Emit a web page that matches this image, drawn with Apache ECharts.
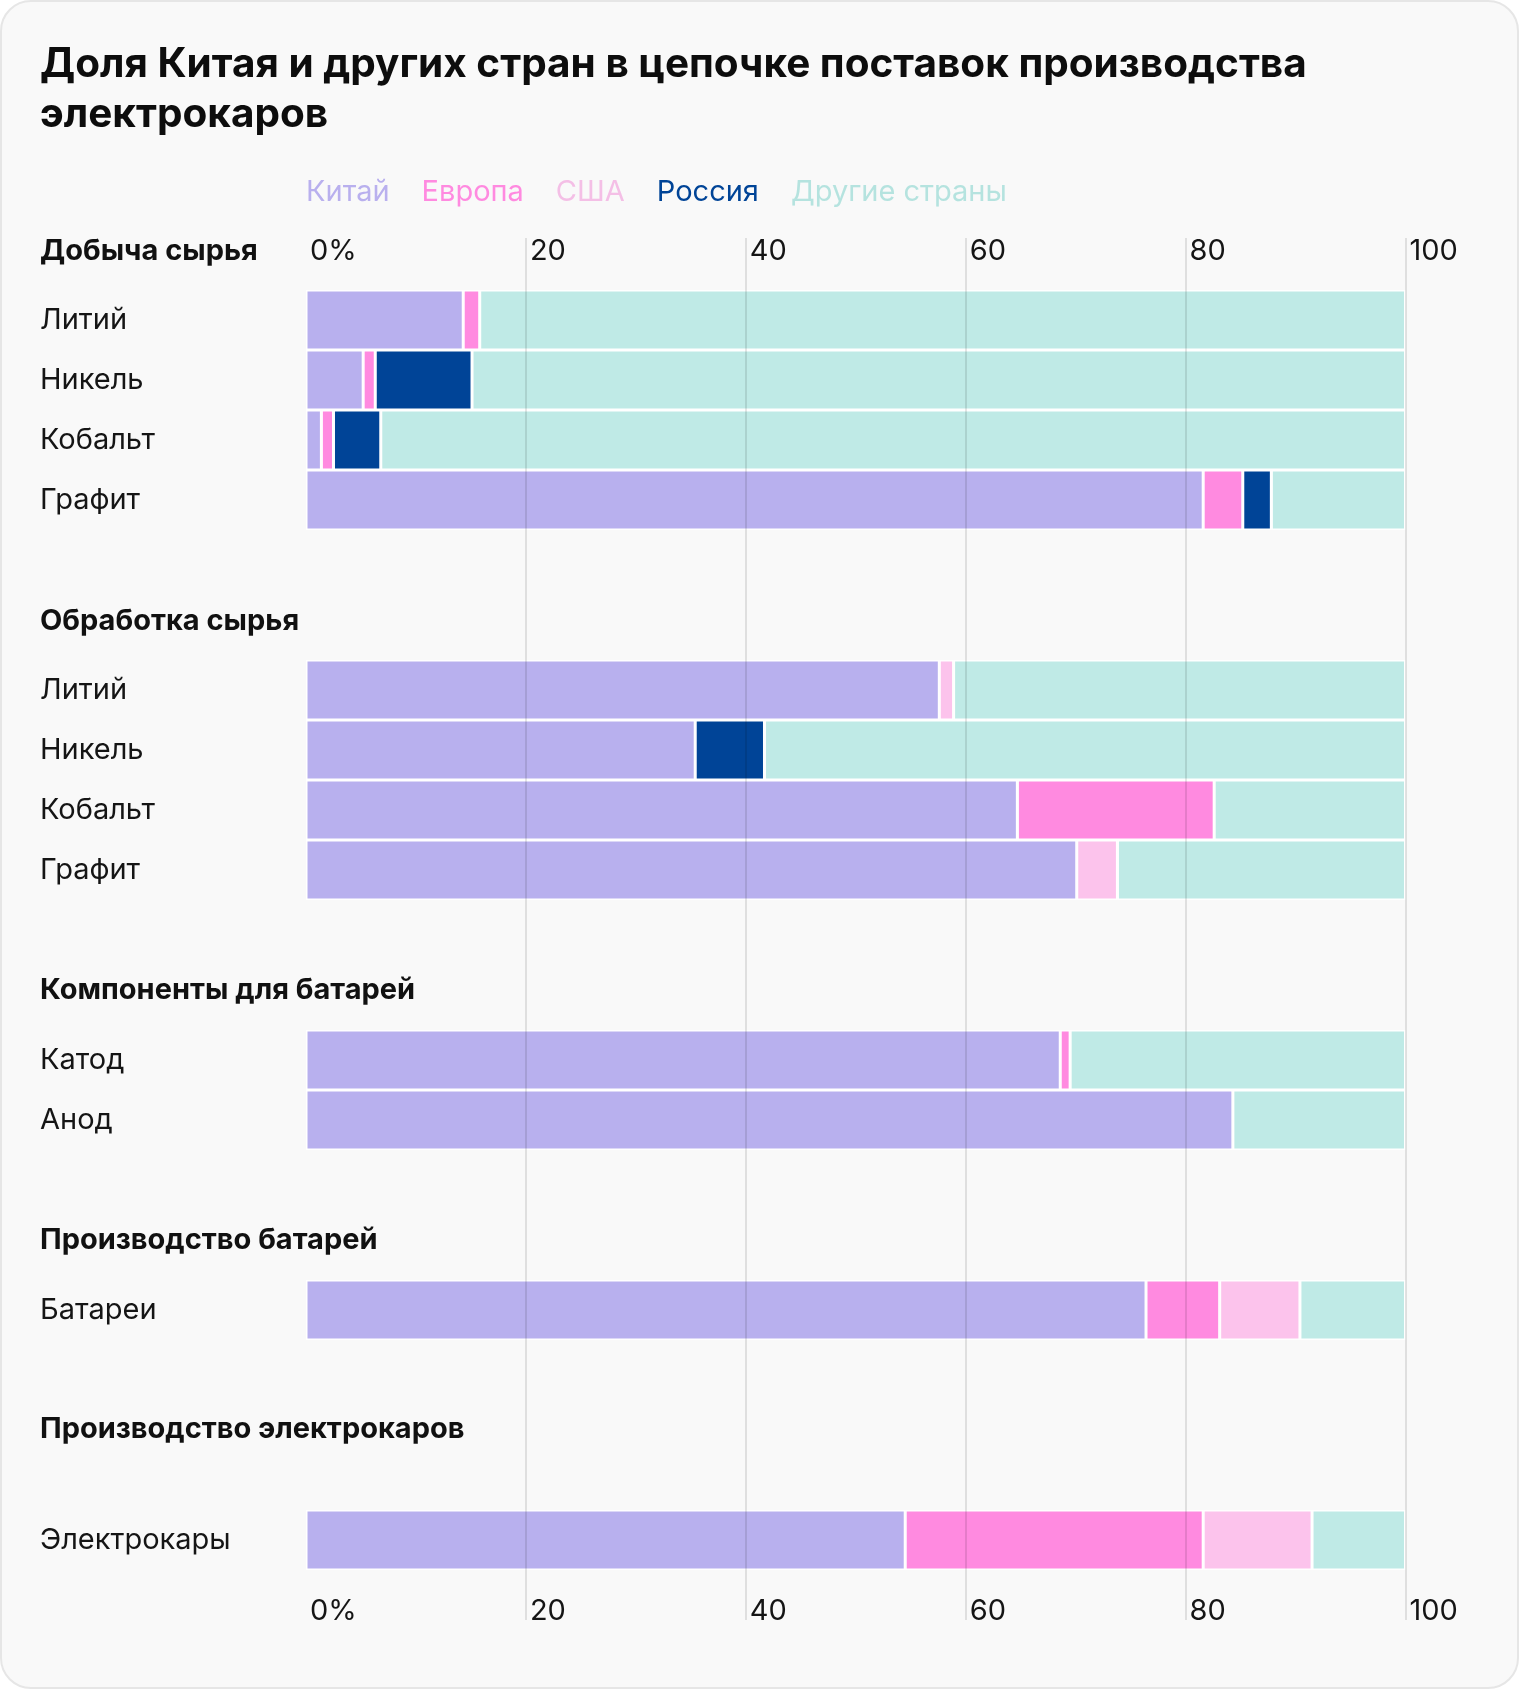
<!DOCTYPE html>
<html>
<head>
<meta charset="utf-8">
<script src="https://cdn.jsdelivr.net/npm/echarts@6/dist/echarts.min.js"></script>
<style>
html,body{margin:0;padding:0;background:#ffffff;}
#chart{width:1520px;height:1690px;}
</style>
</head>
<body>
<div id="chart"></div>
<script>
// ---- Data ----
const countries = ['Китай', 'Европа', 'США', 'Россия', 'Другие страны'];
const sectionTitles = ['Добыча сырья', 'Обработка сырья', 'Компоненты для батарей', 'Производство батарей', 'Производство электрокаров'];

const catMining = ['Литий', 'Никель', 'Кобальт', 'Графит'];
const chinaMining  = [14.3, 5.2, 1.4, 81.6];
const europeMining = [1.5, 1.1, 1.1, 3.6];
const usaMining    = [0, 0, 0, 0];
const russiaMining = [0, 8.8, 4.3, 2.6];
const otherMining  = [84.2, 84.9, 93.2, 12.2];

const catProcessing = ['Литий', 'Никель', 'Кобальт', 'Графит'];
const chinaProcessing  = [57.6, 35.4, 64.7, 70.1];
const europeProcessing = [0, 0, 17.9, 0];
const usaProcessing    = [1.3, 0, 0, 3.7];
const russiaProcessing = [0, 6.3, 0, 0];
const otherProcessing  = [41.1, 58.3, 17.4, 26.2];

const catComponents = ['Катод', 'Анод'];
const chinaComponents  = [68.6, 84.3];
const europeComponents = [0.9, 0];
const usaComponents    = [0, 0];
const russiaComponents = [0, 0];
const otherComponents  = [30.5, 15.7];

const catBatteries = ['Батареи'];
const chinaBatteries  = [76.4];
const europeBatteries = [6.7];
const usaBatteries    = [7.3];
const russiaBatteries = [0];
const otherBatteries  = [9.6];

const catCars = ['Электрокары'];
const chinaCars  = [54.5];
const europeCars = [27.1];
const usaCars    = [9.9];
const russiaCars = [0];
const otherCars  = [8.5];

const xTicks = [0, 20, 40, 60, 80, 100];

// ---- Styling ----
const FONT = 'Inter';
const FS = 29;
const colors = ['#b8b0ee', '#ff8ae0', '#fcc3ec', '#004497', '#bfeae6'];
const legendColors = ['#b9b0ee', '#ff8ae0', '#f4bfe6', '#004497', '#b5e3df'];

const sections = [
  {cats: catMining, vals: [chinaMining, europeMining, usaMining, russiaMining, otherMining], top: 290},
  {cats: catProcessing, vals: [chinaProcessing, europeProcessing, usaProcessing, russiaProcessing, otherProcessing], top: 660},
  {cats: catComponents, vals: [chinaComponents, europeComponents, usaComponents, russiaComponents, otherComponents], top: 1030},
  {cats: catBatteries, vals: [chinaBatteries, europeBatteries, usaBatteries, russiaBatteries, otherBatteries], top: 1280},
  {cats: catCars, vals: [chinaCars, europeCars, usaCars, russiaCars, otherCars], top: 1510}
];
const headerY = [251, 621, 990, 1240, 1429];
const ROW = 60;
const LEFT = 306, RIGHT = 114.5;

const grid = [], xAxis = [], yAxis = [], series = [];
sections.forEach((s, i) => {
  grid.push({left: LEFT, right: RIGHT, top: s.top, height: s.cats.length * ROW});
  xAxis.push({type: 'value', gridIndex: i, min: 0, max: 100, show: false});
  yAxis.push({
    type: 'category', gridIndex: i, inverse: true, data: s.cats,
    axisLine: {show: false}, axisTick: {show: false}, splitLine: {show: false},
    axisLabel: {align: 'left', margin: LEFT - 40, fontSize: FS, fontFamily: FONT, color: '#151515', padding: [4, 0, 0, 0]}
  });
  countries.forEach((c, k) => {
    series.push({
      name: c, type: 'bar', stack: 'sec' + i, xAxisIndex: i, yAxisIndex: i,
      barWidth: '100%', barCategoryGap: 0,
      data: s.vals[k].map(v => (v ? v : null)),
      itemStyle: {color: colors[k], borderColor: '#ffffff', borderWidth: 1.5},
      emphasis: {disabled: true}
    });
  });
});

// background grid for the shared percentage scale and gridlines
const bg = sections.length;
grid.push({left: LEFT, right: RIGHT, top: 238, bottom: 70});
yAxis.push({type: 'value', gridIndex: bg, show: false, min: 0, max: 1});
const tickFmt = v => (v === 0 ? '0%' : String(v));
xAxis.push({
  type: 'value', gridIndex: bg, position: 'top', min: xTicks[0], max: xTicks[xTicks.length - 1], interval: 20, z: 10,
  axisLine: {show: false}, axisTick: {show: false},
  axisLabel: {inside: true, margin: 13, align: 'left', verticalAlign: 'middle', padding: [0, 0, 0, 4],
    fontSize: FS, fontFamily: FONT, color: '#151515', formatter: tickFmt, showMaxLabel: true, showMinLabel: true},
  splitLine: {show: true, showMinLine: false, lineStyle: {color: 'rgba(0,0,0,0.1)', width: 2}}
});
xAxis.push({
  type: 'value', gridIndex: bg, position: 'bottom', min: xTicks[0], max: xTicks[xTicks.length - 1], interval: 20, z: 10,
  axisLine: {show: false}, axisTick: {show: false},
  axisLabel: {inside: true, margin: 9, align: 'left', verticalAlign: 'middle', padding: [0, 0, 0, 4],
    fontSize: FS, fontFamily: FONT, color: '#151515', formatter: tickFmt, showMaxLabel: true, showMinLabel: true},
  splitLine: {show: false}
});

const graphic = [{
  type: 'rect', z: -10, silent: true,
  shape: {x: 1, y: 1, width: 1517, height: 1687, r: 30},
  style: {fill: '#f9f9f9', stroke: '#e6e6e6', lineWidth: 2}
}];
sectionTitles.forEach((t, i) => {
  graphic.push({
    type: 'text', x: 40, y: headerY[i], silent: true,
    style: {text: t, fontSize: FS, fontWeight: 'bold', fontFamily: FONT, fill: '#111111', verticalAlign: 'middle', align: 'left'}
  });
});

const chart = echarts.init(document.getElementById('chart'), null, {renderer: 'canvas'});
chart.setOption({
  animation: false,
  backgroundColor: '#ffffff',
  title: {
    text: 'Доля Китая и других стран в цепочке поставок производства\nэлектрокаров',
    left: 40, top: 40, padding: 0,
    textStyle: {fontSize: 40.5, fontWeight: 'bold', fontFamily: FONT, color: '#0d0d0d', lineHeight: 50}
  },
  legend: {
    left: 300, top: 178, padding: 0, itemGap: 26, itemWidth: 0, itemHeight: 0, icon: 'rect',
    selectedMode: false,
    textStyle: {fontSize: FS, fontFamily: FONT},
    data: countries.map((c, k) => ({name: c, textStyle: {color: legendColors[k]}}))
  },
  graphic: graphic,
  grid: grid,
  xAxis: xAxis,
  yAxis: yAxis,
  series: series
});
</script>
</body>
</html>
